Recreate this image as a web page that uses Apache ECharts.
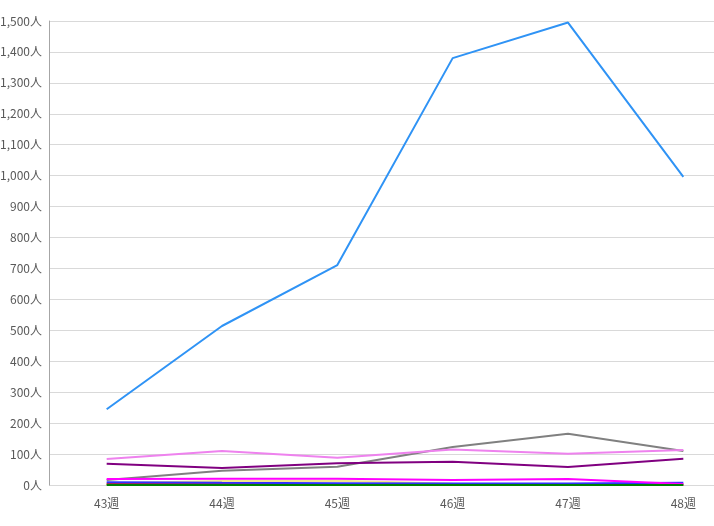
<!DOCTYPE html>
<html>
<head>
<meta charset="utf-8">
<script src="https://cdn.jsdelivr.net/npm/echarts@6/dist/echarts.min.js"></script>
<style>
html, body { margin: 0; padding: 0; background: #fff; }
#chartBox { width: 714px; height: 526px; }
</style>
</head>
<body>
<div id="chartBox"></div>
<script>
// 週
var weeks = ['43週', '44週', '45週', '46週', '47週', '48週']
// 各系列の人数
var blueMain = [245, 514, 711, 1380, 1495, 996]
var grayLine = [16, 46, 59, 123, 166, 110]
var violetLine = [84, 110, 88, 115, 101, 113]
var purpleLine = [69, 55, 70, 75, 58, 85]
var magentaLine = [19, 20, 20, 16, 19, 3]
var blueLine = [9, 7, 6, 5, 5, 7]
var khakiLine = [6, 13, 14, 4, 3, 2]
var redLine = [3, 5, 2, 1, 1, 1]
var greenLine = [0, 0, 0, 0, 0, 0]

var seriesList = [
  { data: blueMain, color: '#2f93f5' },
  { data: grayLine, color: '#808080' },
  { data: violetLine, color: '#ee82ee' },
  { data: purpleLine, color: '#800080' },
  { data: khakiLine, color: '#f0e68c' },
  { data: redLine, color: '#d02020' },
  { data: blueLine, color: '#3030ff' },
  { data: magentaLine, color: '#ff00ff' },
  { data: greenLine, color: '#008000' }
]

var myChart = echarts.init(document.getElementById('chartBox'))
myChart.setOption({
  animation: false,
  grid: {
    left: 49,
    top: 21,
    width: 692,
    bottom: 41,
    containLabel: false,
    outerBoundsMode: 'none'
  },
  xAxis: {
    type: 'category',
    data: weeks,
    boundaryGap: true,
    axisLine: { show: false },
    axisTick: { show: false },
    axisLabel: {
      color: '#595959',
      fontSize: 12,
      fontFamily: 'Noto Sans CJK JP',
      margin: 12
    }
  },
  yAxis: {
    type: 'value',
    min: 0,
    max: 1500,
    interval: 100,
    axisLine: { show: true, lineStyle: { color: '#a6a6a6' } },
    axisTick: { show: false },
    splitLine: { lineStyle: { color: '#d9d9d9' } },
    axisLabel: {
      color: '#595959',
      fontSize: 12,
      fontFamily: 'Noto Sans CJK JP',
      margin: 7,
      formatter: function (v) {
        return v.toLocaleString('en-US') + '人'
      }
    }
  },
  series: seriesList.map(function (s) {
    return {
      type: 'line',
      data: s.data,
      symbol: 'none',
      lineStyle: { width: 2, color: s.color },
      itemStyle: { color: s.color }
    }
  })
})
</script>
</body>
</html>
